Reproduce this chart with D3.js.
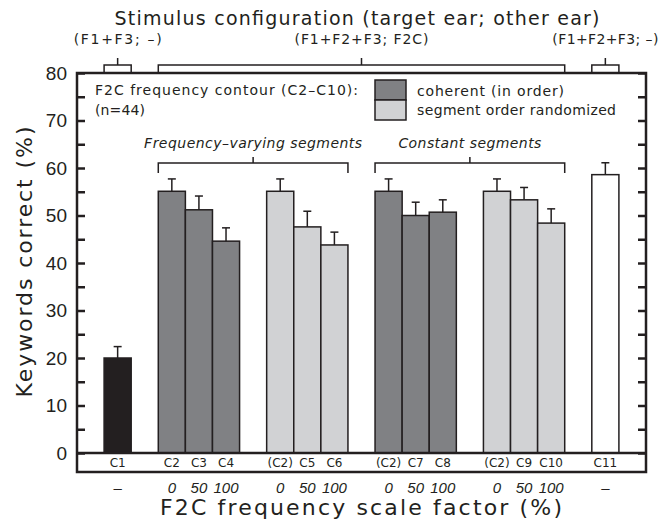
<!DOCTYPE html>
<html>
<head>
<meta charset="utf-8">
<script src="https://cdn.jsdelivr.net/npm/d3@7"></script>
<style>
  body { margin: 0; background: #fff; }
  svg { display: block; }
</style>
</head>
<body>
<svg id="chart" width="660" height="526"></svg>
<script>
// condition labels, in plotting order
const conditions = ["C1", "C2", "C3", "C4", "(C2)", "C5", "C6", "(C2)", "C7", "C8", "(C2)", "C9", "C10", "C11"];
// keywords correct (%)
const means = [20.0, 55.1, 51.2, 44.6, 55.1, 47.6, 43.8, 55.1, 50.0, 50.7, 55.1, 53.3, 48.4, 58.6];
const errUpper = [22.4, 57.7, 54.1, 47.4, 57.7, 50.9, 46.5, 57.7, 52.8, 53.3, 57.7, 55.9, 51.4, 61.1];
// bar type per condition
const kinds = ["f1f3", "coherent", "coherent", "coherent", "random", "random", "random",
               "coherent", "coherent", "coherent", "random", "random", "random", "full"];
// clusters of adjacent bars (number of bars in each)
const clusterSizes = [1, 3, 3, 3, 3, 1];
// F2C scale factor row
const scaleFactors = ["\u2013", "0", "50", "100", "0", "50", "100", "0", "50", "100", "0", "50", "100", "\u2013"];
const yTicks = [0, 5, 10, 15, 20, 25, 30, 35, 40, 45, 50, 55, 60, 65, 70, 75, 80];

// configuration brackets above the plot: [label, first bar, last bar]
const configLabels = [["(F1+F3; \u2013)", 0, 0], ["(F1+F2+F3; F2C)", 1, 12], ["(F1+F2+F3; \u2013)", 13, 13]];
const segmentLabels = [["Frequency\u2013varying segments", 1, 6], ["Constant segments", 7, 12]];
const legendItems = [["coherent", "coherent (in order)"], ["random", "segment order randomized"]];

const INK = "#231f20";
const FONT = "'DejaVu Sans', sans-serif";
const fills = { f1f3: "#231f20", coherent: "#808184", random: "#d1d2d4", full: "#ffffff" };

const svg = d3.select("#chart");
const plotL = 77, plotR = 646, plotT = 73, zeroY = 453, stripB = 472;

// stretch a text to the width it takes in the original figure
function fit(sel, w) {
  return sel.attr("textLength", w).attr("lengthAdjust", "spacing");
}

// slot positions: one empty slot before every cluster and after the last
const slots = [];
let s = 0;
clusterSizes.forEach(n => {
  s += 1;
  for (let i = 0; i < n; i++) slots.push(s++);
});
const nSlots = s + 1;

const x = d3.scaleBand().domain(d3.range(nSlots)).range([plotL, plotR]).padding(0);
const y = d3.scaleLinear().domain([0, 80]).range([zeroY, plotT]);
const bx = i => x(slots[i]);
const bw = x.bandwidth();

// bars
svg.append("g").selectAll("rect")
  .data(conditions)
  .join("rect")
  .attr("x", (d, i) => bx(i))
  .attr("y", (d, i) => y(means[i]))
  .attr("width", bw)
  .attr("height", (d, i) => y(0) - y(means[i]))
  .attr("fill", (d, i) => fills[kinds[i]])
  .attr("stroke", INK)
  .attr("stroke-width", 1.5);

// error bars (upper only)
const eb = svg.append("g").attr("stroke", INK).attr("stroke-width", 1.5);
conditions.forEach((c, i) => {
  const cx = bx(i) + bw / 2;
  eb.append("line").attr("x1", cx).attr("x2", cx).attr("y1", y(means[i])).attr("y2", y(errUpper[i]));
  eb.append("line").attr("x1", cx - 4).attr("x2", cx + 4).attr("y1", y(errUpper[i])).attr("y2", y(errUpper[i]));
});

// axes with inward ticks
const fmt = d => d % 10 === 0 ? d : "";
const yl = svg.append("g")
  .attr("transform", `translate(${plotL},0)`)
  .call(d3.axisLeft(y).tickValues(yTicks).tickSize(-8).tickPadding(10).tickFormat(fmt));
const yr = svg.append("g")
  .attr("transform", `translate(${plotR},0)`)
  .call(d3.axisRight(y).tickValues(yTicks).tickSize(-8).tickFormat(""));
[yl, yr].forEach(a => {
  a.select(".domain").remove();
  a.selectAll("line").attr("stroke", INK).attr("stroke-width", 2.5);
});
yl.selectAll("text").attr("font-family", "'Liberation Sans', Arial, sans-serif")
  .attr("font-size", 19).attr("fill", INK);

// frame, zero line and the condition strip
svg.append("rect")
  .attr("x", plotL).attr("y", plotT)
  .attr("width", plotR - plotL).attr("height", stripB - plotT)
  .attr("fill", "none").attr("stroke", INK).attr("stroke-width", 2.5);
svg.append("line")
  .attr("x1", plotL).attr("x2", plotR).attr("y1", zeroY).attr("y2", zeroY)
  .attr("stroke", INK).attr("stroke-width", 2.5);

svg.append("g").selectAll("text")
  .data(conditions)
  .join("text")
  .attr("x", (d, i) => bx(i) + bw / 2)
  .attr("y", 467)
  .attr("text-anchor", "middle")
  .attr("font-family", FONT).attr("font-size", 12).attr("fill", INK)
  .text(d => d);

svg.append("g").selectAll("text")
  .data(scaleFactors)
  .join("text")
  .attr("x", (d, i) => bx(i) + bw / 2)
  .attr("y", 493)
  .attr("text-anchor", "middle")
  .attr("font-family", "'Liberation Sans', Arial, sans-serif")
  .attr("font-size", 15).attr("font-style", "italic").attr("fill", INK)
  .text(d => d);

// axis titles
fit(svg.append("text")
  .attr("x", 361).attr("y", 515)
  .attr("text-anchor", "middle")
  .attr("font-family", FONT).attr("font-size", 22).attr("fill", INK)
  .text("F2C frequency scale factor (%)"), 402);

fit(svg.append("text")
  .attr("transform", `translate(32,262) rotate(-90)`)
  .attr("text-anchor", "middle")
  .attr("font-family", FONT).attr("font-size", 22).attr("fill", INK)
  .text("Keywords correct (%)"), 271);

fit(svg.append("text")
  .attr("x", 357).attr("y", 25)
  .attr("text-anchor", "middle")
  .attr("font-family", FONT).attr("font-size", 19).attr("fill", INK)
  .text("Stimulus configuration (target ear; other ear)"), 485);

// brackets
function bracket(x0, x1, yBar, yEnd, yTick) {
  const mid = (x0 + x1) / 2;
  svg.append("path")
    .attr("d", `M${x0},${yEnd}V${yBar}H${x1}V${yEnd}M${mid},${yBar}V${yTick}`)
    .attr("fill", "none").attr("stroke", INK).attr("stroke-width", 1.5);
  return mid;
}

const configWidths = [88, 134, 106];
configLabels.forEach(([label, a, b], i) => {
  const mid = bracket(bx(a), bx(b) + bw, 65, plotT, 58);
  fit(svg.append("text")
    .attr("x", mid).attr("y", 44)
    .attr("text-anchor", "middle")
    .attr("font-family", FONT).attr("font-size", 14).attr("fill", INK)
    .text(label), configWidths[i]);
});

const segmentWidths = [218, 143];
segmentLabels.forEach(([label, a, b], i) => {
  const mid = bracket(bx(a), bx(b) + bw, 163, 173, 157);
  fit(svg.append("text")
    .attr("x", mid).attr("y", 148)
    .attr("text-anchor", "middle")
    .attr("font-family", FONT).attr("font-size", 14).attr("font-style", "italic").attr("fill", INK)
    .text(label), segmentWidths[i]);
});

// panel note
fit(svg.append("text")
  .attr("x", 95).attr("y", 95)
  .attr("font-family", FONT).attr("font-size", 14).attr("fill", INK)
  .text("F2C frequency contour (C2\u2013C10):"), 263);
fit(svg.append("text")
  .attr("x", 95).attr("y", 115)
  .attr("font-family", FONT).attr("font-size", 14).attr("fill", INK)
  .text("(n=44)"), 50);

// legend
const legendWidths = [147, 199];
legendItems.forEach(([k, label], i) => {
  svg.append("rect")
    .attr("x", 375).attr("y", 80 + i * 20)
    .attr("width", 31).attr("height", 20)
    .attr("fill", fills[k]).attr("stroke", INK).attr("stroke-width", 1.5);
  fit(svg.append("text")
    .attr("x", 417).attr("y", 96 + i * 19)
    .attr("font-family", FONT).attr("font-size", 14).attr("fill", INK)
    .text(label), legendWidths[i]);
});
</script>
</body>
</html>
